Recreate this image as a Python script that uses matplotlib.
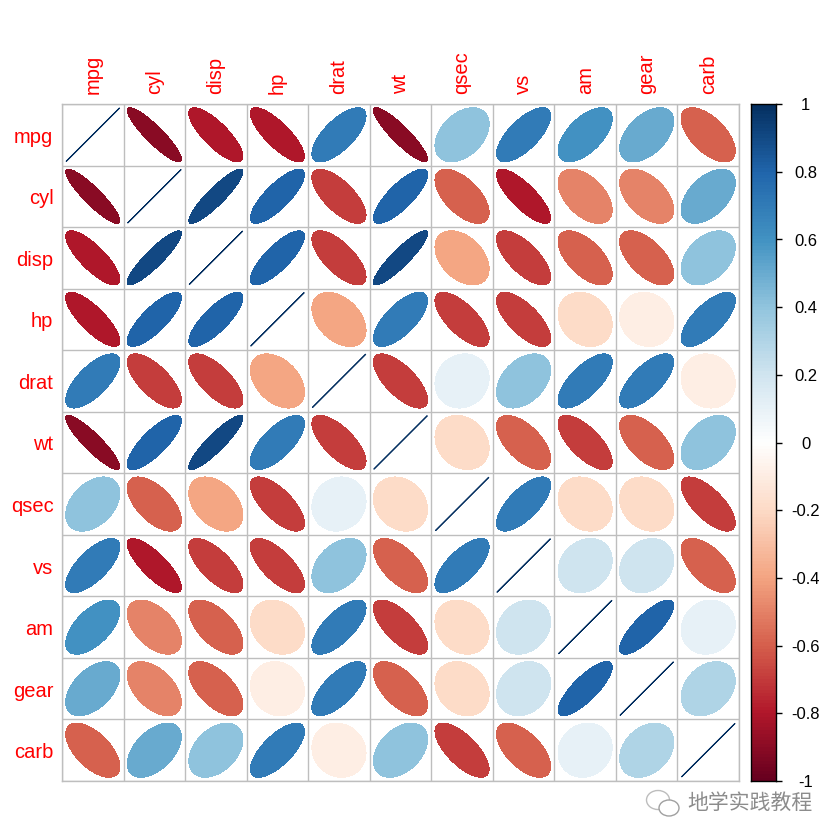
#!/usr/bin/python3
# Correlation matrix of mtcars (rounded to 1 decimal) drawn as coloured ellipses, corrplot style.
import numpy as np
import matplotlib
matplotlib.use('Agg')
import matplotlib.pyplot as plt
from matplotlib.colors import LinearSegmentedColormap
from matplotlib.patches import Ellipse

VARIABLES = ['mpg', 'cyl', 'disp', 'hp', 'drat', 'wt', 'qsec', 'vs', 'am', 'gear', 'carb']
CORR_MPG = [1, -0.9, -0.8, -0.8, 0.7, -0.9, 0.4, 0.7, 0.6, 0.5, -0.6]
CORR_CYL = [-0.9, 1, 0.9, 0.8, -0.7, 0.8, -0.6, -0.8, -0.5, -0.5, 0.5]
CORR_DISP = [-0.8, 0.9, 1, 0.8, -0.7, 0.9, -0.4, -0.7, -0.6, -0.6, 0.4]
CORR_HP = [-0.8, 0.8, 0.8, 1, -0.4, 0.7, -0.7, -0.7, -0.2, -0.1, 0.7]
CORR_DRAT = [0.7, -0.7, -0.7, -0.4, 1, -0.7, 0.1, 0.4, 0.7, 0.7, -0.1]
CORR_WT = [-0.9, 0.8, 0.9, 0.7, -0.7, 1, -0.2, -0.6, -0.7, -0.6, 0.4]
CORR_QSEC = [0.4, -0.6, -0.4, -0.7, 0.1, -0.2, 1, 0.7, -0.2, -0.2, -0.7]
CORR_VS = [0.7, -0.8, -0.7, -0.7, 0.4, -0.6, 0.7, 1, 0.2, 0.2, -0.6]
CORR_AM = [0.6, -0.5, -0.6, -0.2, 0.7, -0.7, -0.2, 0.2, 1, 0.8, 0.1]
CORR_GEAR = [0.5, -0.5, -0.6, -0.1, 0.7, -0.6, -0.2, 0.2, 0.8, 1, 0.3]
CORR_CARB = [-0.6, 0.5, 0.4, 0.7, -0.1, 0.4, -0.7, -0.6, 0.1, 0.3, 1]
CBAR_TICKS = [-1, -0.8, -0.6, -0.4, -0.2, 0, 0.2, 0.4, 0.6, 0.8, 1]
RDBU_COLOURS = ['#67001F', '#B2182B', '#D6604D', '#F4A582', '#FDDBC7', '#FFFFFF',
                '#D1E5F0', '#92C5DE', '#4393C3', '#2166AC', '#053061']
WATERMARK = '地学实践教程'

WIDTH = 840
HEIGHT = 840
ELLIPSE_SCALE = 0.44
DIAGONAL_SCALE = 0.43

plt.rcParams['font.family'] = ['Liberation Sans', 'DejaVu Sans']


def pixel_axes(fig, left, top, right, bottom):
    return fig.add_axes([left / WIDTH, 1 - bottom / HEIGHT, (right - left) / WIDTH, (bottom - top) / HEIGHT])


corr = np.array([CORR_MPG, CORR_CYL, CORR_DISP, CORR_HP, CORR_DRAT, CORR_WT,
                 CORR_QSEC, CORR_VS, CORR_AM, CORR_GEAR, CORR_CARB])
n = len(VARIABLES)
cmap = LinearSegmentedColormap.from_list('rdbu', RDBU_COLOURS, N=200)

fig = plt.figure(figsize=(WIDTH / 100, HEIGHT / 100), dpi=100, facecolor='white')

# Main grid, row 0 on top.
ax = pixel_axes(fig, 62, 104, 739, 781)
ax.set_xlim(0, n)
ax.set_ylim(n, 0)
ax.set_xticks(np.arange(n + 1))
ax.set_yticks(np.arange(n + 1))
ax.grid(True, color='#bebebe', linewidth=1.0)
ax.set_axisbelow(True)
ax.tick_params(length=0, labelbottom=False, labelleft=False)
for spine in ax.spines.values():
    spine.set_color('#bebebe')
    spine.set_linewidth(1.0)

t = np.linspace(0, 2 * np.pi, 200)
for i in range(n):
    for j in range(n):
        rho = corr[i, j]
        d = np.arccos(rho)
        ex = np.cos(t + d / 2)
        ey = np.cos(t - d / 2)
        colour = cmap((rho + 1) / 2)
        if i == j:
            ax.plot(j + 0.5 + DIAGONAL_SCALE * ex, i + 0.5 - DIAGONAL_SCALE * ey, color=colour, linewidth=0.8)
        else:
            ax.fill(j + 0.5 + ELLIPSE_SCALE * ex, i + 0.5 - ELLIPSE_SCALE * ey, color=colour, linewidth=0, antialiased=False)

for k, name in enumerate(VARIABLES):
    ax.text(k + 0.5, -0.16, name, color='red', fontsize=14.5, rotation=90, ha='center', va='bottom')
    ax.text(-0.14, k + 0.54, name, color='red', fontsize=14.5, ha='right', va='center')

# Colour bar.
cax = pixel_axes(fig, 751, 104, 775.5, 781)
gradient = np.linspace(1, -1, 200).reshape(-1, 1)
cax.imshow(gradient, cmap=cmap, vmin=-1, vmax=1, aspect='auto', extent=[0, 1, -1, 1], interpolation='nearest')
cax.set_xticks([])
cax.yaxis.tick_right()
cax.set_yticks(CBAR_TICKS)
cax.set_yticklabels([])
cax.tick_params(axis='y', length=4.5, width=1.0, color='black')
for spine in cax.spines.values():
    spine.set_linewidth(1.0)
for tick in CBAR_TICKS:
    cax.text(1.0 + 30 / 24.5, tick - 0.005, '%g' % tick, fontsize=12, ha='center', va='center', clip_on=False)

# Watermark in the lower right corner.
fig.text(687 / WIDTH, 1 - 803 / HEIGHT, WATERMARK, color='#8c8c8c', fontsize=15,
         family=['Noto Sans CJK SC', 'DejaVu Sans'], ha='left', va='center')
icon = fig.add_axes([640 / WIDTH, 1 - 820 / HEIGHT, 44 / WIDTH, 36 / HEIGHT])
icon.set_xlim(640, 684)
icon.set_ylim(820, 784)
icon.axis('off')
icon.add_patch(Ellipse((658, 800), 23, 19, facecolor='white', edgecolor='#bdbdbd', linewidth=1.0))
icon.add_patch(Ellipse((669, 808), 20, 16, facecolor='white', edgecolor='#a0a0a0', linewidth=1.0))

fig.savefig('out.png', dpi=100, facecolor='white')
